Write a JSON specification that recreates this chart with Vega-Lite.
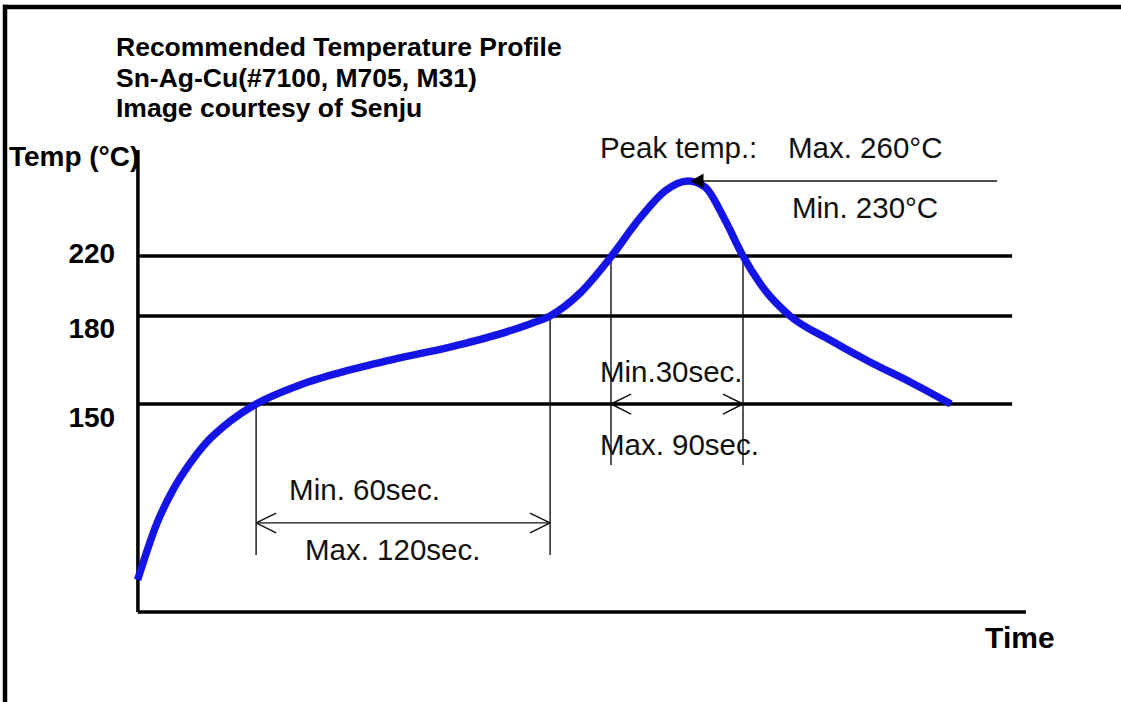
{
  "$schema": "https://vega.github.io/schema/vega-lite/v6.json",
  "width": 1121,
  "height": 702,
  "autosize": {"type": "fit", "contains": "padding"},
  "padding": 0,
  "background": "white",
  "config": {"view": {"stroke": null}, "text": {"font": "Liberation Sans"}},
  "datasets": {
    "frame": [
      {"t": -44.6, "T": 352.8, "t2": 328, "T2": 352.8},
      {"t": -44, "T": 354, "t2": -44, "T2": 40}
    ],
    "axes": [
      {"t": 0.3, "T": 276.5, "t2": 0.3, "T2": 80},
      {"t": 0.3, "T": 80, "t2": 296.3, "T2": 80}
    ],
    "levels": [
      {"t": 0.3, "T": 220, "t2": 291.7, "T2": 220},
      {"t": 0.3, "T": 180, "t2": 291.7, "T2": 180},
      {"t": 0.3, "T": 150, "t2": 291.7, "T2": 150}
    ],
    "guides": [
      {"t": 39.7, "T": 150, "t2": 39.7, "T2": 99.2},
      {"t": 137.7, "T": 180, "t2": 137.7, "T2": 99.2},
      {"t": 158, "T": 220, "t2": 158, "T2": 129.5},
      {"t": 202, "T": 220, "t2": 202, "T2": 129.5},
      {"t": 39.7, "T": 110, "t2": 137.7, "T2": 110},
      {"t": 39.7, "T": 110, "t2": 46.4, "T2": 113.3},
      {"t": 39.7, "T": 110, "t2": 46.4, "T2": 106.6},
      {"t": 137.7, "T": 110, "t2": 131, "T2": 113.3},
      {"t": 137.7, "T": 110, "t2": 131, "T2": 106.6},
      {"t": 158, "T": 150, "t2": 164.7, "T2": 153.4},
      {"t": 158, "T": 150, "t2": 164.7, "T2": 146.6},
      {"t": 202, "T": 150, "t2": 195.3, "T2": 153.4},
      {"t": 202, "T": 150, "t2": 195.3, "T2": 146.6},
      {"t": 185, "T": 260, "t2": 286.7, "T2": 260}
    ],
    "curve": [
      {"t": 0.2, "T": 90.8},
      {"t": 6.7, "T": 110.0},
      {"t": 12.0, "T": 121.1},
      {"t": 17.7, "T": 130.1},
      {"t": 23.0, "T": 136.9},
      {"t": 28.7, "T": 142.3},
      {"t": 34.3, "T": 146.6},
      {"t": 39.7, "T": 150.0},
      {"t": 54.3, "T": 156.5},
      {"t": 71.0, "T": 161.6},
      {"t": 87.7, "T": 165.7},
      {"t": 104.3, "T": 169.4},
      {"t": 121.0, "T": 173.9},
      {"t": 131.0, "T": 177.3},
      {"t": 137.7, "T": 180.0},
      {"t": 147.7, "T": 195.3},
      {"t": 157.7, "T": 218.7},
      {"t": 167.7, "T": 240.3},
      {"t": 176.0, "T": 254.7},
      {"t": 183.7, "T": 260.0},
      {"t": 189.3, "T": 256.8},
      {"t": 196.0, "T": 239.2},
      {"t": 202.0, "T": 220.0},
      {"t": 209.3, "T": 197.3},
      {"t": 217.7, "T": 180.0},
      {"t": 231.0, "T": 171.8},
      {"t": 244.3, "T": 164.3},
      {"t": 257.7, "T": 157.5},
      {"t": 271.3, "T": 150.0}
    ],
    "arrowhead": [{"t": 186.7, "T": 260}],
    "titles": [
      {"t": -7.0, "T": 326.7, "label": "Recommended Temperature Profile"},
      {"t": -7.0, "T": 310.1, "label": "Sn-Ag-Cu(#7100, M705, M31)"},
      {"t": -7.0, "T": 294.1, "label": "Image courtesy of Senju"}
    ],
    "ytitle": [{"t": -42.7, "T": 268, "label": "Temp (°C)"}],
    "ylabels": [
      {"t": -7.3, "T": 215.1, "label": "220"},
      {"t": -7.3, "T": 172.4, "label": "180"},
      {"t": -7.3, "T": 142.4, "label": "150"}
    ],
    "xtitle": [{"t": 282.7, "T": 67.8, "label": "Time"}],
    "notes": [
      {"t": 154.3, "T": 272.1, "label": "Peak temp.:"},
      {"t": 217, "T": 272.1, "label": "Max. 260°C"},
      {"t": 218.3, "T": 240.1, "label": "Min. 230°C"},
      {"t": 154.3, "T": 157.6, "label": "Min.30sec."},
      {"t": 154.3, "T": 132.8, "label": "Max. 90sec."},
      {"t": 50.7, "T": 117.7, "label": "Min. 60sec."},
      {"t": 56, "T": 97.5, "label": "Max. 120sec."}
    ]
  },
  "encoding": {
    "x": {"field": "t", "type": "quantitative", "axis": null,
          "scale": {"domain": [0, 300], "range": [137, 1037], "nice": false, "zero": false}},
    "y": {"field": "T", "type": "quantitative", "axis": null,
          "scale": {"domain": [80, 150, 180, 220, 260], "range": [612, 404, 316, 256, 181], "nice": false, "zero": false}}
  },
  "layer": [
    {"data": {"name": "frame"}, "mark": {"type": "rule", "color": "black", "strokeWidth": 4.5},
     "encoding": {"x2": {"field": "t2"}, "y2": {"field": "T2"}}},
    {"data": {"name": "axes"}, "mark": {"type": "rule", "color": "black", "strokeWidth": 3.5},
     "encoding": {"x2": {"field": "t2"}, "y2": {"field": "T2"}}},
    {"data": {"name": "levels"}, "mark": {"type": "rule", "color": "black", "strokeWidth": 3.5},
     "encoding": {"x2": {"field": "t2"}, "y2": {"field": "T2"}}},
    {"data": {"name": "guides"}, "mark": {"type": "rule", "color": "#111111", "strokeWidth": 1.4},
     "encoding": {"x2": {"field": "t2"}, "y2": {"field": "T2"}}},
    {"data": {"name": "curve"}, "mark": {"type": "line", "color": "#1414e6", "strokeWidth": 7.5, "interpolate": "monotone", "strokeCap": "butt"},
     "encoding": {}},
    {"data": {"name": "arrowhead"}, "mark": {"type": "point", "shape": "triangle-left", "filled": true, "color": "black", "size": 220, "opacity": 1},
     "encoding": {}},
    {"data": {"name": "titles"}, "mark": {"type": "text", "align": "left", "baseline": "alphabetic", "fontWeight": "bold", "fontSize": 26.5, "color": "black"},
     "encoding": {"text": {"field": "label"}}},
    {"data": {"name": "ytitle"}, "mark": {"type": "text", "align": "left", "baseline": "alphabetic", "fontWeight": "bold", "fontSize": 28, "color": "black"},
     "encoding": {"text": {"field": "label"}}},
    {"data": {"name": "ylabels"}, "mark": {"type": "text", "align": "right", "baseline": "alphabetic", "fontWeight": "bold", "fontSize": 28, "color": "black"},
     "encoding": {"text": {"field": "label"}}},
    {"data": {"name": "xtitle"}, "mark": {"type": "text", "align": "left", "baseline": "alphabetic", "fontWeight": "bold", "fontSize": 30, "color": "black"},
     "encoding": {"text": {"field": "label"}}},
    {"data": {"name": "notes"}, "mark": {"type": "text", "align": "left", "baseline": "alphabetic", "fontSize": 29.5, "color": "#111111"},
     "encoding": {"text": {"field": "label"}}}
  ]
}
